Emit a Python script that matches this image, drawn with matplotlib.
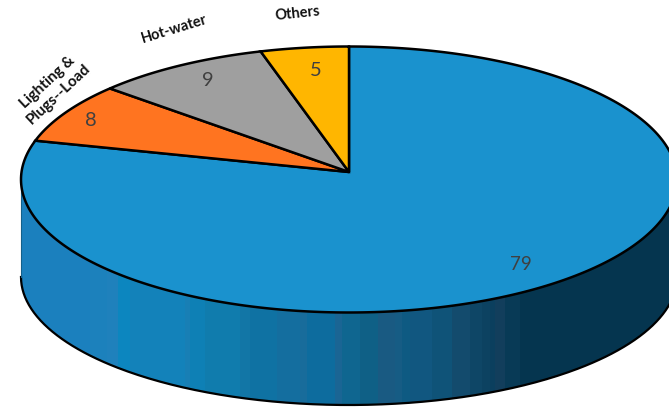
import numpy as np
import matplotlib
matplotlib.use("Agg")
import matplotlib.pyplot as plt
from matplotlib.patches import Polygon
from matplotlib.colors import ListedColormap

# dados
categorias = ["Main", "Lighting &\nPlugs--Load", "Hot-water", "Others"]
valores = [79, 8, 9, 5]
cores = ["#1A92CE", "#FF7420", "#9F9F9F", "#FFB600"]

# faixas do lado do disco: borda esquerda (px) e cor
lado_x = [21, 90, 107, 118, 130, 185, 190, 205, 240, 250, 277, 300, 307, 335, 342, 360,
          378, 395, 402, 410, 432, 452, 470, 482, 490, 495, 505, 520]
lado_cores = ["#1B80BE", "#1C81BC", "#1F81BC", "#0C86BF", "#1382BA", "#187FB5", "#0E80B5",
              "#107CAD", "#1276A6", "#0F72A3", "#146E9F", "#186C9B", "#0D6C9E", "#1A6594",
              "#0F6690", "#0F6086", "#195A82", "#165C84", "#0E5A82", "#115780", "#0F5378",
              "#134B6D", "#0E4666", "#0C4261", "#0B3F5E", "#123E5C", "#083A56", "#05354F"]

# geometria do disco
cx, cy = 349, 179.5      # centro da elipse
rx, ry = 328, 133
ap_y = 172               # vertice das fatias
base_cy, base_ry = 277, 128

# correcao da perspectiva (angulo do pie -> angulo na elipse), lado esquerdo
ang_pie = [0, 17.8, 49.9, 78.4, 360]
ang_eli = [0, 15.6, 46.8, 73.0, 360]


def elipse(ang, cy_, ry_):
    t = np.radians(ang)
    return cx + rx * np.sin(t), cy_ - ry_ * np.cos(t)


fig = plt.figure(figsize=(6.69, 4.07), dpi=100)
ax = fig.add_axes([0, 0, 1, 1])
ax.set_xlim(0, 669)
ax.set_ylim(407, 0)
ax.axis("off")

# lado do disco
ang = np.linspace(90, 270, 300)
xs, ys = elipse(ang, cy, ry)
xb, yb = elipse(ang, base_cy, base_ry)
contorno = np.r_[np.c_[xb, yb], np.c_[xs[::-1], ys[::-1]]]
clip = Polygon(contorno, closed=True, facecolor="none", edgecolor="none")
ax.add_patch(clip)
bordas = lado_x + [700]
faixas = ax.pcolormesh(bordas, [0, 407], np.arange(len(lado_x))[None, :],
                       cmap=ListedColormap(lado_cores), zorder=1)
faixas.set_clip_path(clip)
ax.set_xlim(0, 669)
ax.set_ylim(407, 0)
ax.plot(xb, yb, color="black", lw=1.6, zorder=2)
ax.plot([xs[-1], xb[-1]], [ys[-1], yb[-1]], color="#14608a", lw=0.8, zorder=2)

# fatias, a partir do topo pela direita
total = sum(valores)
ini = 0
for valor, cor in zip(valores, cores):
    fim = ini + valor / total * 360
    a = np.linspace(ini, fim, 300)
    # angulo medido a partir do topo para a esquerda, com a correcao
    a_esq = np.interp(360 - a, ang_pie, ang_eli)
    x, y = elipse(360 - a_esq, cy, ry)
    pts = np.r_[[[cx, ap_y]], np.c_[x, y]]
    ax.add_patch(Polygon(pts, closed=True, facecolor=cor, edgecolor="black", lw=1.8,
                         joinstyle="miter", zorder=3))
    ini = fim

# valores
fonte = ["Lato", "DejaVu Sans"]
ax.text(521, 264, "79", color="#404040", fontsize=13.5, ha="center", va="center", family=fonte, zorder=4)
ax.text(91, 120, "8", color="#404040", fontsize=14.5, ha="center", va="center", family=fonte, zorder=4)
ax.text(208, 81, "9", color="#404040", fontsize=14.5, ha="center", va="center", family=fonte, zorder=4)
ax.text(316, 70, "5", color="#404040", fontsize=14.5, ha="center", va="center", family=fonte, zorder=4)

# rotulos
ax.text(298, 14, categorias[3], fontsize=10.5, fontweight="bold", rotation=6, ha="center", va="center",
        family=fonte, color="#111111")
ax.text(174, 29, categorias[2], fontsize=10.5, fontweight="bold", rotation=17, ha="center", va="center",
        family=fonte, color="#111111")
ax.text(53, 88, categorias[1], fontsize=11, fontweight="bold", rotation=43, ha="center", va="center",
        family=fonte, color="#111111", linespacing=1.15, rotation_mode="anchor")

fig.savefig("out.png", dpi=100)
plt.close(fig)
